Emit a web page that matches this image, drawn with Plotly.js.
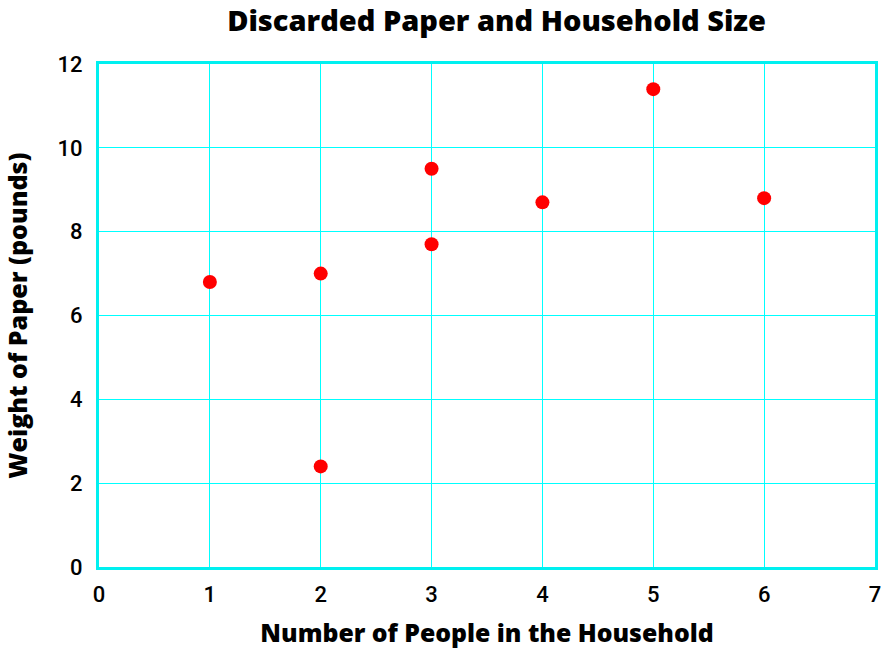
<!DOCTYPE html>
<html>
<head>
<meta charset="utf-8">
<script src="https://cdn.plot.ly/plotly-3.0.1.min.js"></script>
<style>html,body{margin:0;padding:0;background:#fff}#chart{width:882px;height:650px}</style>
</head>
<body>
<div id="chart"></div>
<script>
var householdSize = [1, 2, 2, 3, 3, 4, 5, 6];
var paperWeight = [6.8, 7.0, 2.4, 9.5, 7.7, 8.7, 11.4, 8.8];
var xTicks = [0, 1, 2, 3, 4, 5, 6, 7];
var yTicks = [0, 2, 4, 6, 8, 10, 12];

var trace = {
  x: householdSize,
  y: paperWeight,
  type: 'scatter',
  mode: 'markers',
  marker: {color: '#ff0000', size: 14},
  hoverinfo: 'x+y'
};

var tickFont = {family: 'Roboto', size: 22, color: '#000', weight: 500};

var layout = {
  width: 882, height: 650,
  margin: {l: 99, r: 7, t: 64, b: 83},
  paper_bgcolor: '#ffffff', plot_bgcolor: '#ffffff',
  showlegend: false,
  title: {
    text: 'Discarded Paper and Household Size',
    font: {family: 'Open Sans', size: 29, color: '#000', weight: 800},
    x: 0.563, xanchor: 'center', y: 0.968, yanchor: 'middle'
  },
  xaxis: {
    range: [0, 7], tickvals: xTicks, ticktext: xTicks.map(String),
    showgrid: true, gridcolor: '#00ffff', gridwidth: 1,
    zeroline: false, showline: true, linecolor: '#00f0f0', linewidth: 3, mirror: true,
    ticks: '', tickfont: tickFont,
    ticklabelstandoff: 6,
    title: {text: 'Number of People in the Household', standoff: 19,
      font: {family: 'Open Sans', size: 24.8, color: '#000', weight: 800}}
  },
  yaxis: {
    range: [0, 12], tickvals: yTicks, ticktext: yTicks.map(String),
    showgrid: true, gridcolor: '#00ffff', gridwidth: 1,
    zeroline: false, showline: true, linecolor: '#00f0f0', linewidth: 3, mirror: true,
    ticks: '', tickfont: tickFont,
    ticklabelstandoff: 9,
    title: {text: 'Weight of Paper (pounds)', standoff: 23,
      font: {family: 'Open Sans', size: 25, color: '#000', weight: 800}}
  }
};

Plotly.newPlot('chart', [trace], layout, {displayModeBar: false, staticPlot: true});
</script>
</body>
</html>
